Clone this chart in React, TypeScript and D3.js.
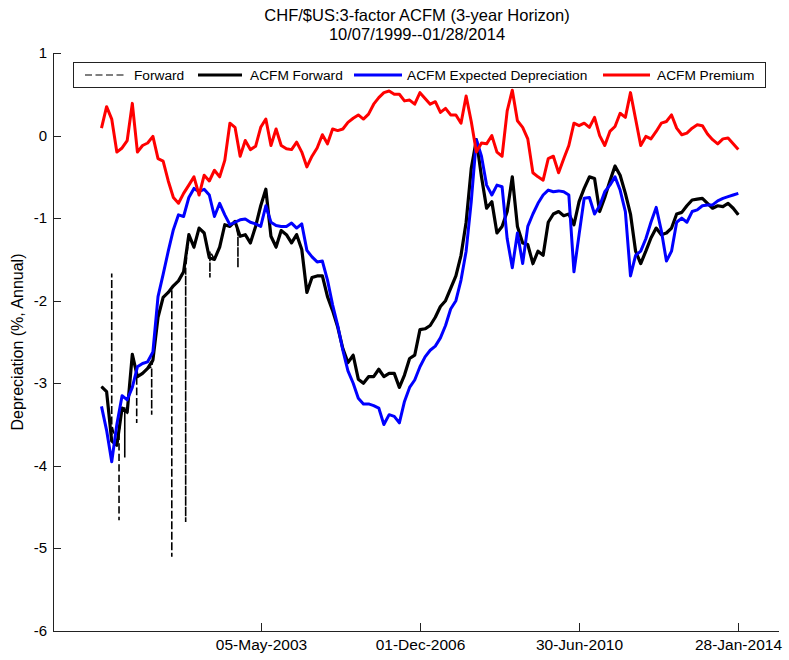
import * as d3 from "d3";

const START = "1999-10-07";
const END = "2014-01-28";

// ACFM Premium (red)
const acfmPremium = [
  0.09, 0.35, 0.20, -0.20, -0.15, -0.06, 0.39, -0.20, -0.12, -0.09,
  -0.01, -0.28, -0.31, -0.55, -0.75, -0.82, -0.70, -0.60, -0.50, -0.72,
  -0.48, -0.55, -0.42, -0.50, -0.30, 0.15, 0.10, -0.25, -0.06, -0.17,
  -0.13, 0.10, 0.20, -0.12, 0.08, -0.12, -0.16, -0.17, -0.08, -0.20,
  -0.38, -0.25, -0.15, 0.01, -0.10, 0.08, 0.06, 0.08, 0.16, 0.21,
  0.25, 0.20, 0.26, 0.38, 0.46, 0.52, 0.54, 0.50, 0.50, 0.42,
  0.43, 0.38, 0.52, 0.45, 0.38, 0.41, 0.28, 0.33, 0.25, 0.25,
  0.15, 0.48, 0.17, -0.20, -0.09, -0.10, 0.00, -0.20, -0.25, 0.30,
  0.55, 0.18, 0.10, -0.04, -0.45, -0.50, -0.54, -0.28, -0.25, -0.45,
  -0.28, -0.12, 0.15, 0.12, 0.15, 0.10, 0.22, 0.00, -0.12, 0.05,
  0.11, 0.27, 0.22, 0.52, 0.20, -0.12, -0.01, -0.04, 0.05, 0.15,
  0.17, 0.25, 0.09, 0.01, 0.03, 0.09, 0.13, 0.12, 0.02, -0.05,
  -0.10, -0.04, -0.03, -0.10, -0.17,
];

// ACFM Expected Depreciation (blue)
const acfmExpDep = [
  -3.28, -3.57, -3.95, -3.50, -3.15, -3.20, -3.05, -2.80, -2.76, -2.74,
  -2.62, -1.95, -1.68, -1.40, -1.14, -0.96, -0.98, -0.75, -0.64, -0.68,
  -0.65, -0.72, -0.98, -0.82, -0.96, -1.08, -1.05, -1.02, -1.01, -1.05,
  -1.07, -1.10, -0.85, -1.05, -1.09, -1.10, -1.10, -1.06, -1.12, -1.07,
  -1.39, -1.47, -1.53, -1.52, -1.75, -2.05, -2.30, -2.60, -2.85, -3.00,
  -3.18, -3.25, -3.25, -3.27, -3.30, -3.50, -3.38, -3.40, -3.48, -3.22,
  -3.05, -2.96, -2.80, -2.68, -2.60, -2.55, -2.45, -2.30, -2.10, -2.00,
  -1.75, -1.40, -0.80, -0.05, -0.25, -0.60, -0.72, -0.60, -0.62, -1.25,
  -1.60, -1.18, -1.55, -1.10, -0.95, -0.82, -0.72, -0.66, -0.68, -0.67,
  -0.68, -0.72, -1.65, -1.20, -0.76, -0.75, -0.95, -0.85, -0.68, -0.60,
  -0.50, -0.66, -0.92, -1.70, -1.45, -1.40, -1.25, -1.05, -0.87, -1.15,
  -1.52, -1.40, -1.05, -1.00, -1.05, -0.92, -0.90, -0.85, -0.84, -0.84,
  -0.79, -0.76, -0.74, -0.72, -0.70,
];

// ACFM Forward (black solid)
const acfmForward = [
  -3.04, -3.10, -3.70, -3.75, -3.30, -3.35, -2.65, -2.92, -2.88, -2.82,
  -2.72, -2.20, -1.96, -1.90, -1.82, -1.76, -1.65, -1.20, -1.35, -1.12,
  -1.18, -1.48, -1.50, -1.35, -1.08, -1.10, -1.04, -1.22, -1.20, -1.30,
  -1.10, -0.85, -0.65, -1.22, -1.35, -1.15, -1.20, -1.30, -1.20, -1.38,
  -1.90, -1.72, -1.70, -1.70, -1.95, -2.12, -2.32, -2.58, -2.75, -2.66,
  -2.95, -3.00, -2.92, -2.92, -2.83, -2.92, -2.88, -2.88, -3.05, -2.90,
  -2.70, -2.66, -2.35, -2.34, -2.30, -2.20, -2.07, -2.00, -1.85, -1.70,
  -1.45, -1.05, -0.40, -0.05, -0.50, -0.88, -0.80, -1.18, -1.10, -0.92,
  -0.50, -1.10, -1.30, -1.32, -1.55, -1.40, -1.45, -1.05, -0.95, -0.92,
  -0.97, -0.95, -1.08, -0.80, -0.64, -0.50, -0.52, -0.92, -0.75, -0.55,
  -0.37, -0.48, -0.70, -0.95, -1.40, -1.55, -1.40, -1.24, -1.12, -1.20,
  -1.18, -1.12, -0.95, -0.93, -0.85, -0.78, -0.77, -0.76, -0.82, -0.88,
  -0.85, -0.86, -0.82, -0.88, -0.96,
];

// raw Forward: follows ACFM Forward, plus these one-day jumps [date, from, to]
const forwardSpikes: [string, number, number][] = [
  ["1999-12-30", -3.5, -1.67],
  ["2000-02-28", -3.6, -4.66],
  ["2000-04-15", -3.3, -3.9],
  ["2000-07-22", -2.9, -3.48],
  ["2000-11-22", -2.8, -3.38],
  ["2001-05-06", -1.85, -5.1],
  ["2001-08-28", -1.6, -4.68],
  ["2002-03-15", -1.4, -1.72],
  ["2002-10-31", -1.2, -1.6],
];

const xTickDates = ["2003-05-05", "2006-12-01", "2010-06-30", "2014-01-28"];
const yTicks = [-6, -5, -4, -3, -2, -1, 0, 1];
const legendNames = ["Forward", "ACFM Forward", "ACFM Expected Depreciation", "ACFM Premium"];

const W = 789, H = 660;
const M = { left: 53, right: 779, top: 53, bottom: 631 };
const parse = d3.utcParse("%Y-%m-%d");

export default function App() {
  const start = parse(START)!;
  const end = parse(END)!;
  const n = acfmForward.length;
  const total = d3.utcDay.count(start, end);
  const dates = d3.range(n).map(i => d3.utcDay.offset(start, Math.round(i * total / (n - 1))));

  const x = d3.scaleUtc()
    .domain([parse("1998-09-04")!, parse("2014-12-28")!])
    .range([M.left, M.right]);
  const y = d3.scaleLinear().domain([-6, 1]).range([M.bottom, M.top]);

  type P = { d: Date; v: number; k: number };
  const line = d3.line<P>().x(p => x(p.d)).y(p => y(p.v));
  const toPts = (arr: number[]) => arr.map((v, i) => ({ d: dates[i], v, k: 0 }));

  const fwdPts: P[] = toPts(acfmForward);
  forwardSpikes.forEach(([ds, a, b]) => {
    const d = parse(ds)!;
    fwdPts.push({ d, v: a, k: 1 }, { d, v: b, k: 2 }, { d, v: a, k: 3 });
  });
  fwdPts.sort((p, q) => (+p.d - +q.d) || (p.k - q.k));

  const fmt = d3.utcFormat("%d-%b-%Y");
  const font = "'Liberation Sans', Arial, Helvetica, sans-serif";

  const legendItems = [
    { name: legendNames[0], x1: 85, x2: 127, tx: 134, color: "#000", w: 1.2, dash: "7,3.5" },
    { name: legendNames[1], x1: 198, x2: 242, tx: 250, color: "#000", w: 2.8, dash: undefined },
    { name: legendNames[2], x1: 354, x2: 402, tx: 407, color: "#0000ff", w: 2.8, dash: undefined },
    { name: legendNames[3], x1: 603, x2: 650, tx: 657, color: "#ff0000", w: 2.8, dash: undefined },
  ];

  return (
    <svg width={W} height={H} style={{ position: "absolute", left: 0, top: 0, background: "#fff" }} fontFamily={font}>
      <rect width={W} height={H} fill="#fff" />
      <text x={417} y={21} textAnchor="middle" fontSize={16.5}>CHF/$US:3-factor ACFM (3-year Horizon)</text>
      <text x={417} y={40} textAnchor="middle" fontSize={16.5}>10/07/1999--01/28/2014</text>

      {/* series */}
      <path d={line(fwdPts)!} fill="none" stroke="#000" strokeWidth={1.6} strokeDasharray="7,3.5" />
      <path d={line(toPts(acfmForward))!} fill="none" stroke="#000" strokeWidth={3.2} strokeLinejoin="round" />
      <path d={line(toPts(acfmExpDep))!} fill="none" stroke="#0000ff" strokeWidth={3} strokeLinejoin="round" />
      <path d={line(toPts(acfmPremium))!} fill="none" stroke="#ff0000" strokeWidth={3} strokeLinejoin="round" />

      {/* axes */}
      <line x1={M.left + 0.5} x2={M.left + 0.5} y1={M.top} y2={M.bottom + 0.5} stroke="#222" />
      <line x1={M.left} x2={M.right} y1={M.bottom + 0.5} y2={M.bottom + 0.5} stroke="#222" />
      {yTicks.map(t => (
        <g key={t}>
          <line x1={M.left} x2={M.left + 8} y1={Math.round(y(t)) + 0.5} y2={Math.round(y(t)) + 0.5} stroke="#222" />
          <text x={47} y={y(t) + 5} textAnchor="end" fontSize={15}>{t}</text>
        </g>
      ))}
      {xTickDates.map(s => {
        const d = parse(s)!;
        const xx = Math.round(x(d)) + 0.5;
        return (
          <g key={s}>
            <line x1={xx} x2={xx} y1={M.bottom} y2={M.bottom - 8} stroke="#222" />
            <text x={xx} y={650} textAnchor="middle" fontSize={15.5}>{fmt(d)}</text>
          </g>
        );
      })}
      <text transform={`translate(23,342) rotate(-90)`} textAnchor="middle" fontSize={16}>Depreciation (%, Annual)</text>

      {/* legend */}
      <rect x={73.5} y={62.5} width={692} height={25} fill="#fff" stroke="#222" />
      {legendItems.map(it => (
        <g key={it.name}>
          <line x1={it.x1} x2={it.x2} y1={75} y2={75} stroke={it.color} strokeWidth={it.w} strokeDasharray={it.dash} />
          <text x={it.tx} y={80} fontSize={13.7}>{it.name}</text>
        </g>
      ))}
    </svg>
  );
}
